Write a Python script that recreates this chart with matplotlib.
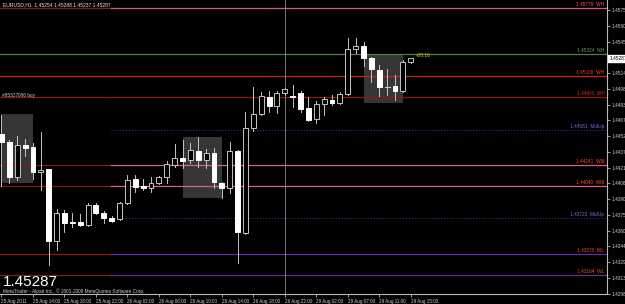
import numpy as np
import matplotlib
matplotlib.use('Agg')
from matplotlib import pyplot as plt
from matplotlib.patches import Rectangle
import matplotlib.transforms as mtransforms

# EURUSD H1 candles, bar index 0 = 25 Aug 10:00
opens = [1.44543, 1.44471, 1.44123, 1.44439, 1.44416, 1.44172, 1.44201, 1.43503, 1.43777, 1.43686,
         1.43686, 1.43657, 1.43852, 1.43771, 1.43728, 1.43712, 1.43869, 1.44103, 1.44038, 1.44015,
         1.44064, 1.44123, 1.44246, 1.44312, 1.44292, 1.44383, 1.44292, 1.44358, 1.44070, 1.44015,
         1.44383, 1.43581, 1.44608, 1.44739, 1.44911, 1.44820, 1.44944, 1.44921, 1.44944, 1.44797,
         1.44690, 1.44839, 1.44879, 1.44846, 1.44937, 1.45374, 1.45409, 1.45286, 1.45172, 1.45006,
         1.45012, 1.44967, 1.45254]
highs = [1.44732, 1.44488, 1.44527, 1.44494, 1.44461, 1.44569, 1.44204, 1.43810, 1.43803, 1.43777,
         1.43764, 1.43875, 1.43869, 1.43796, 1.43745, 1.43884, 1.44145, 1.44145, 1.44103, 1.44129,
         1.44136, 1.44282, 1.44445, 1.44488, 1.44455, 1.44514, 1.44397, 1.44406, 1.44080, 1.44471,
         1.44390, 1.44764, 1.45009, 1.44960, 1.44966, 1.44966, 1.44993, 1.45025, 1.44969, 1.44911,
         1.44872, 1.44911, 1.44927, 1.44960, 1.45482, 1.45482, 1.45448, 1.45302, 1.45221, 1.45179,
         1.45118, 1.45265, 1.45288]
lows = [1.44038, 1.44064, 1.44097, 1.44334, 1.44103, 1.43999, 1.43266, 1.43412, 1.43591, 1.43634,
        1.43647, 1.43647, 1.43764, 1.43679, 1.43689, 1.43706, 1.43862, 1.43982, 1.43999, 1.43982,
        1.44057, 1.44070, 1.44221, 1.44211, 1.44260, 1.44221, 1.44211, 1.44015, 1.43918, 1.43967,
        1.43285, 1.43569, 1.44578, 1.44732, 1.44764, 1.44748, 1.44927, 1.44813, 1.44764, 1.44676,
        1.44651, 1.44732, 1.44830, 1.44839, 1.44927, 1.45335, 1.45211, 1.45057, 1.44922, 1.44927,
        1.44879, 1.44957, 1.45237]
closes = [1.44471, 1.44123, 1.44439, 1.44406, 1.44175, 1.44194, 1.43503, 1.43777, 1.43679, 1.43673,
          1.43657, 1.43852, 1.43777, 1.43722, 1.43699, 1.43875, 1.44097, 1.44031, 1.44015, 1.44070,
          1.44123, 1.44253, 1.44309, 1.44279, 1.44390, 1.44292, 1.44358, 1.44080, 1.44015, 1.44383,
          1.43591, 1.44602, 1.44742, 1.44918, 1.44820, 1.44950, 1.44983, 1.44908, 1.44791, 1.44683,
          1.44839, 1.44885, 1.44852, 1.44937, 1.45374, 1.45409, 1.45286, 1.45179, 1.45003, 1.45004,
          1.44969, 1.45252, 1.45287]

# horizontal pivot lines: price, label, left colour, right colour, label colour
lvl_price = [1.45778, 1.45326, 1.45110, 1.44905, 1.44585, 1.44240, 1.44038, 1.43722, 1.43370, 1.43168]
lvl_label = ['1.45779  WH', '1.45324  NH', '1.45108  WH', '1.44903  WH', '1.44581  MidUp',
             '1.44241  WM', '1.44040  WM', '1.43722  MidUp', '1.43370  WL', '1.43164  WL']
lvl_left = ['#8b1a08', '#4f7f4f', '#c02a0a', '#8b1a08', None, '#8b1a08', '#8b1a08', None, '#8b1a08', '#8b1a08']
lvl_right = ['#d8587a', '#4f7f4f', '#c02a0a', '#8b1a08', '#3c3ca8', '#d8607e', '#d8607e', '#3c3ca8', '#6030a0', '#6030a0']
lvl_txt = ['#ff5060', '#6fa06f', '#ff3a1a', '#e03010', '#7a6ae0', '#ff4a20', '#ff4a20', '#7a6ae0', '#ff4a20', '#ff4a20']

# shaded boxes: bar start, bar end, price low, price high
box_x0 = [0, 23, 46]
box_x1 = [4, 28, 51]
box_lo = [1.44067, 1.43921, 1.44849]
box_hi = [1.44742, 1.44517, 1.45318]

time_pos = [0, 4, 8, 12, 16, 20, 24, 28, 32, 36, 40, 44, 48, 52]
time_lab = ['25 Aug 2011', '25 Aug 14:00', '25 Aug 18:00', '25 Aug 22:00', '26 Aug 02:00',
            '26 Aug 06:00', '26 Aug 10:00', '26 Aug 14:00', '26 Aug 18:00', '26 Aug 22:00',
            '29 Aug 02:00', '29 Aug 07:00', '29 Aug 11:00', '29 Aug 15:00']
# the 1.45296 level sits under the current price box, so it is not listed
price_lab = ['1.45758', '1.45604', '1.45450', '1.45142', '1.44988', '1.44834', '1.44679',
             '1.44525', '1.44371', '1.44217', '1.44063', '1.43909', '1.43755', '1.43601', '1.43447',
             '1.43293', '1.43139', '1.42985']

last_price = 1.45287
font = 'Liberation Sans'
axcol = '#b8b8b8'

fig = plt.figure(figsize=(6.25, 3.04), dpi=100, facecolor='black')
ax = fig.add_axes([0, 10 / 304, 607 / 625, 294 / 304], facecolor='black')
ax.set_xlim(-0.19, 76.94)
ax.set_ylim(1.42982, 1.45856)

# boxes
for x0, x1, lo, hi in zip(box_x0, box_x1, box_lo, box_hi):
    ax.add_patch(Rectangle((x0, lo), x1 - x0, hi - lo, facecolor='#363636', edgecolor='none', zorder=1))

# pivot lines
split = 13.9
for p, lab, cl, cr, ct in zip(lvl_price, lvl_label, lvl_left, lvl_right, lvl_txt):
    if cl is None:
        ax.plot([split, 76.94], [p, p], color=cr, lw=0.7, ls=(0, (1, 2)), zorder=2)
    else:
        ax.plot([-0.19, split], [p, p], color=cl, lw=0.9, zorder=2)
        ax.plot([split, 76.94], [p, p], color=cr, lw=0.9, zorder=2)
    ax.text(76.6, p + 0.00008, lab, color=ct, fontsize=3.4, family=font, ha='right', va='bottom', zorder=5)

# period separator
ax.axvline(36, color='#8a8a8a', lw=0.6, zorder=2)

# candles
w = 0.62
for i, (o, h, l, c) in enumerate(zip(opens, highs, lows, closes)):
    bull = c >= o
    ax.plot([i, i], [l, h], color='#c4c4c4', lw=0.7, zorder=3)
    lo, hi = min(o, c), max(o, c)
    if hi - lo < 0.00004:
        ax.plot([i - w / 2, i + w / 2], [o, o], color='#c4c4c4', lw=0.8, zorder=4)
    elif bull:
        ax.add_patch(Rectangle((i - w / 2, lo), w, hi - lo, facecolor='black', edgecolor='#c4c4c4', lw=0.7, zorder=4))
    else:
        ax.add_patch(Rectangle((i - w / 2, lo), w, hi - lo, facecolor='white', edgecolor='white', lw=0.7, zorder=4))

# axes styling
for s in ['left', 'top']:
    ax.spines[s].set_visible(False)
ax.spines['right'].set_color(axcol)
ax.spines['bottom'].set_color(axcol)
ax.spines['right'].set_linewidth(0.8)
ax.spines['bottom'].set_linewidth(0.8)
ax.yaxis.tick_right()
ax.set_yticks([float(v) for v in price_lab])
ax.set_yticklabels(price_lab, fontsize=3.4, family=font, color='#d0d0d0')
ax.set_xticks(time_pos)
ax.set_xticklabels(time_lab, fontsize=3.3, family=font, color='#d0d0d0', ha='left')
ax.tick_params(axis='both', colors=axcol, length=2.5, width=0.6, pad=1)
ax.tick_params(axis='y', labelcolor='#d0d0d0')
ax.tick_params(axis='x', labelcolor='#d0d0d0')

# current price box on the price axis
tr = mtransforms.blended_transform_factory(ax.transAxes, ax.transData)
ax.text(1.004, last_price, '1.45287', transform=tr, fontsize=3.4, family=font, color='black',
        ha='left', va='center', clip_on=False, zorder=6,
        bbox=dict(boxstyle='square,pad=0.25', facecolor='white', edgecolor='white'))

# texts
fig.text(3 / 625, 1 - 5 / 304, 'EURUSD,H1  1.45254 1.45288 1.45237 1.45287', color='#e0e0e0',
         fontsize=3.6, family=font, va='center', ha='left')
ax.text(0.05, 1.44922, '#85327086 buy', color='#c8c8c8', fontsize=3.4, family=font, va='center', zorder=5)
ax.text(52.6, 1.45312, '+30.16', color='#d8d800', fontsize=3.4, family=font, va='center', zorder=5)
fig.text(3 / 625, 1 - 286 / 304, '1.45287', color='white', fontsize=11, family=font, va='baseline')
fig.text(3 / 625, 1 - 291 / 304, 'MetaTrader - Alpari Inc., \u00a9 2001-2009 MetaQuotes Software Corp.',
         color='#d0d0d0', fontsize=3.4, family=font, va='center')

fig.savefig('out.png', dpi=100, facecolor='black')
